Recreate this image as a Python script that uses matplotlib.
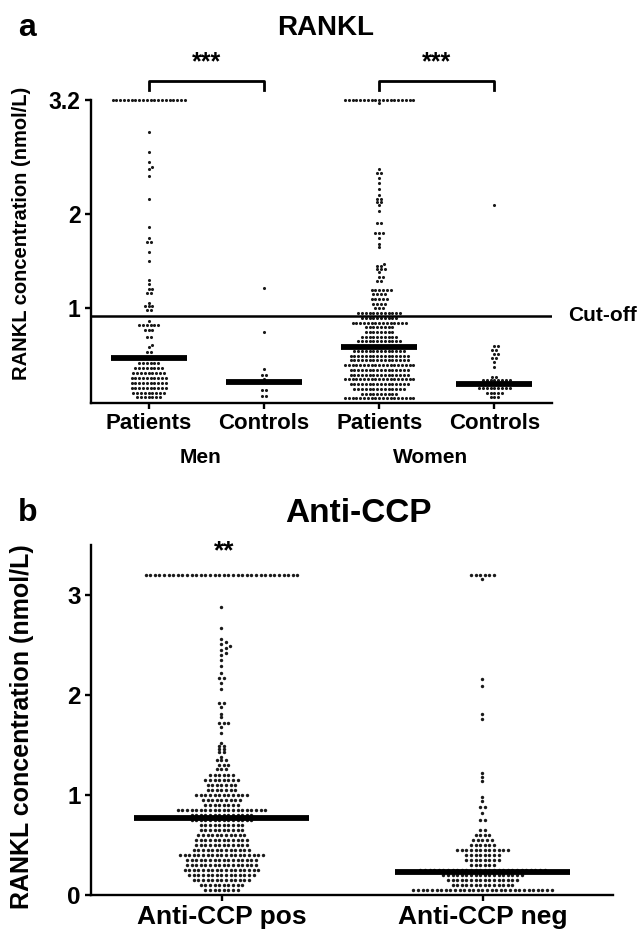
import numpy as np
import matplotlib
matplotlib.use("Agg")
import matplotlib.pyplot as plt

plt.rcParams['font.family'] = ['Liberation Sans', 'DejaVu Sans']
plt.rcParams['font.weight'] = 'bold'

# ---------------- data ----------------
# Panel a: RANKL by sex; each group as (levels, counts)
a_categories = ["Patients", "Controls", "Patients", "Controls"]
a_sex_labels = ["Men", "Women"]
a_yticks = [1, 2, 3.2]
a_cutoff = 0.92
a_medians = [0.47, 0.22, 0.59, 0.20]

men_pat_levels = [3.2, 2.86, 2.65, 2.54, 2.49, 2.47, 2.40, 2.15, 1.86, 1.74, 1.70, 1.60, 1.50,
                  1.30, 1.26, 1.20, 1.16, 1.06, 1.02, 0.98, 0.87, 0.82, 0.77, 0.70, 0.61, 0.59,
                  0.54, 0.47, 0.42, 0.37, 0.32, 0.26, 0.21, 0.16, 0.11, 0.06]
men_pat_counts = [20, 1, 1, 1, 1, 1, 1, 1, 1, 1, 2, 1, 1,
                  1, 1, 2, 2, 1, 3, 2, 1, 6, 3, 2, 1, 1,
                  2, 3, 6, 8, 9, 10, 10, 10, 9, 7]

men_ctl_levels = [1.21, 0.75, 0.36, 0.30, 0.25, 0.22, 0.14, 0.07]
men_ctl_counts = [1, 1, 1, 2, 1, 2, 2, 2]

wom_pat_levels = [3.2, 3.17, 2.47, 2.43, 2.38, 2.32, 2.26, 2.20, 2.15, 2.12, 2.09, 2.03, 1.90,
                  1.80, 1.74, 1.68, 1.65, 1.47, 1.45, 1.42, 1.38, 1.33, 1.29, 1.19, 1.15,
                  1.10, 1.05, 1.00, 0.95, 0.90, 0.85, 0.80, 0.75, 0.70, 0.65, 0.60, 0.55,
                  0.50, 0.45, 0.40, 0.35, 0.30, 0.25, 0.20, 0.15, 0.10, 0.05]
wom_pat_counts = [19, 1, 1, 2, 1, 1, 1, 1, 2, 2, 1, 1, 2,
                  3, 1, 1, 1, 1, 2, 3, 1, 2, 2, 6, 4,
                  5, 4, 3, 12, 10, 15, 8, 8, 10, 12, 12, 14,
                  16, 16, 19, 16, 16, 19, 16, 14, 10, 19]

wom_ctl_levels = [2.09, 0.60, 0.56, 0.52, 0.48, 0.43, 0.38, 0.27, 0.24, 0.20, 0.16, 0.11, 0.06]
wom_ctl_counts = [1, 2, 2, 2, 2, 1, 1, 2, 8, 5, 9, 5, 3]

# Panel b: RANKL by anti-CCP status
b_categories = ["Anti-CCP pos", "Anti-CCP neg"]
b_yticks = [0, 1, 2, 3]
b_medians = [0.77, 0.23]

pos_levels = [3.2, 2.88, 2.67, 2.56, 2.53, 2.51, 2.49, 2.47, 2.45, 2.42, 2.40, 2.35, 2.29, 2.22,
              2.17, 2.12, 2.06, 1.92, 1.88, 1.81, 1.78, 1.72, 1.68, 1.62, 1.52, 1.49, 1.46,
              1.43, 1.38, 1.35, 1.30, 1.26, 1.20, 1.15, 1.10, 1.05, 1.00, 0.95, 0.90, 0.85,
              0.80, 0.75, 0.70, 0.65, 0.60, 0.55, 0.50, 0.45, 0.40, 0.35, 0.30, 0.25, 0.20,
              0.15, 0.10, 0.05]
pos_counts = [34, 1, 1, 1, 1, 1, 1, 1, 1, 1, 1, 1, 1, 1,
              2, 1, 1, 2, 1, 1, 1, 3, 1, 1, 1, 2, 2,
              2, 1, 3, 3, 3, 6, 8, 7, 7, 12, 9, 8, 20,
              14, 14, 10, 10, 11, 12, 12, 13, 19, 16, 16, 17, 15,
              13, 10, 8]

neg_levels = [3.2, 3.16, 2.16, 2.09, 1.81, 1.76, 1.22, 1.18, 1.14, 0.98, 0.94, 0.88, 0.82,
              0.75, 0.65, 0.60, 0.55, 0.50, 0.45, 0.40, 0.35, 0.30, 0.25, 0.20, 0.15, 0.10,
              0.05]
neg_counts = [6, 1, 1, 1, 1, 1, 1, 1, 1, 1, 1, 2, 1,
              2, 2, 4, 5, 6, 12, 8, 8, 6, 28, 18, 16, 14,
              31]

# ---------------- helpers ----------------
W, H = 641, 933


def beeswarm(ax, xc, levels, counts, D):
    """Lay out points of one category as a swarm (pixel spacing D).
    Points sharing a value form a centred row; single points are nudged
    sideways only when they would touch an already placed point."""
    order = np.argsort(levels)
    lv = np.asarray(levels, float)[order]
    ct = np.asarray(counts, int)[order]
    pts = ax.transData.transform(np.column_stack([np.full(len(lv), xc), lv]))
    x0 = pts[0, 0]
    px, py = [], []

    def collides(c, y):
        for xx, yy in zip(px, py):
            if (c - xx) ** 2 + (y - yy) ** 2 < D * D - 1e-6:
                return True
        return False

    for y, n in zip(pts[:, 1], ct):
        if n == 1:
            cands = [0.0]
            for xx, yy in zip(px, py):
                dy = y - yy
                if abs(dy) < D:
                    dx = np.sqrt(D * D - dy * dy)
                    cands += [xx + dx, xx - dx]
            cands = sorted(set(np.round(cands, 6)), key=lambda c: (abs(c), -c))
            chosen = next((c for c in cands if not collides(c, y)), 0.0)
            px.append(chosen)
            py.append(y)
        else:
            row = (np.arange(n) - (n - 1) / 2.0) * D
            shift = 0.0
            for s in [0.0, D / 2, -D / 2]:
                if not any(collides(r + s, y) for r in row):
                    shift = s
                    break
            for r in row:
                px.append(r + shift)
                py.append(y)
    back = ax.transData.inverted().transform(np.column_stack([x0 + np.array(px), py]))
    return back[:, 0], back[:, 1]


def style_axes(ax):
    for s in ['top', 'right']:
        ax.spines[s].set_visible(False)
    for s in ['left', 'bottom']:
        ax.spines[s].set_linewidth(1.7)
    ax.tick_params(axis='both', width=1.7, length=4, direction='out')


fig = plt.figure(figsize=(W / 100, H / 100), dpi=100)

# ---------------- panel a ----------------
axa = fig.add_axes([91 / W, 1 - 403 / H, (552 - 91) / W, (403 - 100) / H])
axa.set_xlim(-0.5, 3.5)
axa.set_ylim(0, 3.2)
style_axes(axa)
axa.set_yticks(a_yticks)
axa.set_yticklabels(["1", "2", "3.2"], fontsize=16.5, fontweight='bold')
axa.set_xticks(range(4))
axa.set_xticklabels(a_categories, fontsize=16, fontweight='bold')
axa.tick_params(axis='x', pad=3)
axa.set_ylabel("RANKL concentration (nmol/L)", fontsize=14.5, fontweight='bold')
axa.yaxis.set_label_coords(-60 / (552 - 91), (403 - 233) / 303)

groups_a = [(men_pat_levels, men_pat_counts), (men_ctl_levels, men_ctl_counts),
            (wom_pat_levels, wom_pat_counts), (wom_ctl_levels, wom_ctl_counts)]
for i, (lv, ct) in enumerate(groups_a):
    xs, ys = beeswarm(axa, i, lv, ct, 3.8)
    axa.scatter(xs, ys, s=5, color='#1a1a1a', linewidths=0, clip_on=False, zorder=2)
    axa.hlines(a_medians[i], i - 0.33, i + 0.33, color='black', lw=4.2, zorder=3)

axa.axhline(a_cutoff, color='black', lw=1.8, zorder=3)
axa.text(1.035, a_cutoff, "Cut-off", transform=axa.get_yaxis_transform(), fontsize=15,
         fontweight='bold', va='center', ha='left')

for (x1, x2) in [(0, 1), (2, 3)]:
    axa.plot([x1, x1, x2, x2], [3.31, 3.4, 3.4, 3.31], color='black', lw=2, clip_on=False)
    axa.text((x1 + x2) / 2, 3.60, "***", fontsize=18, fontweight='bold', ha='center',
             va='center')
for j, lab in enumerate(a_sex_labels):
    axa.text(2 * j + 0.45, -0.58, lab, fontsize=15, fontweight='bold', ha='center',
             va='center')

fig.text(18 / W, 1 - 28 / H, "a", fontsize=23, fontweight='bold', ha='left', va='center')
fig.text(326 / W, 1 - 28 / H, "RANKL", fontsize=20, fontweight='bold', ha='center',
         va='center')

# ---------------- panel b ----------------
axb = fig.add_axes([91 / W, 1 - 895 / H, (613 - 91) / W, (895 - 545) / H])
axb.set_xlim(-0.5, 1.5)
axb.set_ylim(0, 3.5)
style_axes(axb)
axb.set_yticks(b_yticks)
axb.set_yticklabels([str(t) for t in b_yticks], fontsize=17.5, fontweight='bold')
axb.set_xticks(range(2))
axb.set_xticklabels(b_categories, fontsize=19, fontweight='bold')
axb.tick_params(axis='x', pad=3)
axb.set_ylabel("RANKL concentration (nmol/L)", fontsize=18, fontweight='bold')
axb.yaxis.set_label_coords(-57 / (613 - 91), (895 - 727) / 350)

groups_b = [(pos_levels, pos_counts), (neg_levels, neg_counts)]
for i, (lv, ct) in enumerate(groups_b):
    xs, ys = beeswarm(axb, i, lv, ct, 4.6)
    axb.scatter(xs, ys, s=6, color='#1a1a1a', linewidths=0, clip_on=False, zorder=2)
    axb.hlines(b_medians[i], i - 0.335, i + 0.335, color='black', lw=4.2, zorder=3)

axb.text(0.01, 3.44, "**", fontsize=19, fontweight='bold', ha='center', va='center')

fig.text(18 / W, 1 - 513 / H, "b", fontsize=23, fontweight='bold', ha='left', va='center')
fig.text(358 / W, 1 - 513 / H, "Anti-CCP", fontsize=24, fontweight='bold', ha='center',
         va='center')

fig.savefig("out.png", dpi=100)
